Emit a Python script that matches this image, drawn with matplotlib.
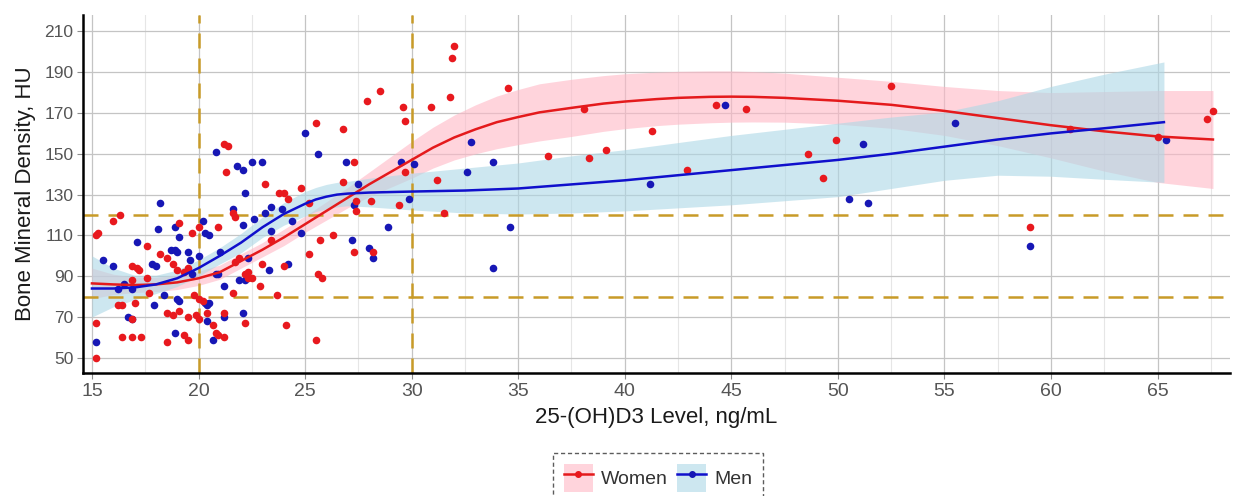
import matplotlib
matplotlib.use("Agg")
import matplotlib.pyplot as plt
from matplotlib.patches import Patch
from matplotlib.lines import Line2D
import numpy as np

plt.rcParams['font.family'] = ['Liberation Sans', 'DejaVu Sans']

# ---------------- data ----------------
women_x = [15.2, 15.3, 15.2, 15.2, 16.0, 16.3, 16.2, 16.4, 16.4, 16.9, 17.3, 16.9, 17.1, 17.2,
           16.9, 17.0, 16.9, 17.6, 17.6, 17.7, 18.2, 18.5, 18.8, 19.0, 19.3, 19.5, 18.5, 19.1,
           20.0, 19.7, 18.5, 18.8, 19.1, 19.3, 19.5, 19.5, 19.9, 20.0, 19.8, 20.0, 20.2, 20.4,
           20.7, 20.8, 20.9, 20.9, 21.2, 21.4, 21.3, 21.2, 21.2, 21.6, 21.6, 21.7, 21.7, 21.9,
           22.2, 22.3, 22.3, 22.2, 22.5, 22.9, 23.1, 23.0, 23.4, 23.7, 23.8, 24.0, 24.2, 24.0,
           24.1, 24.8, 25.2, 25.2, 25.6, 25.8, 25.5, 25.5, 25.7, 26.3, 26.8, 26.8, 27.3, 27.3,
           27.4, 27.4, 27.9, 28.1, 28.2, 28.5, 29.4, 29.6, 29.7, 29.7, 30.9, 31.2, 31.5, 31.8,
           31.9, 32.0, 34.5, 36.4, 38.1, 38.3, 39.1, 41.3, 42.9, 44.3, 45.7, 48.6, 49.3, 49.9,
           52.5, 59.0, 60.9, 65.0, 67.3, 67.6]
women_y = [110, 111, 50, 67, 117, 120, 76, 76, 60, 60, 60, 95, 94, 93,
           88, 77, 69, 105, 89, 82, 101, 99, 96, 93, 92, 94, 58, 116,
           114, 111, 72, 71, 73, 61, 59, 70, 71, 69, 81, 79, 78, 72,
           66, 62, 61, 114, 155, 154, 141, 60, 72, 82, 121, 119, 97, 99,
           91, 92, 89, 67, 89, 85, 135, 96, 108, 81, 131, 131, 128, 95,
           66, 133, 126, 101, 91, 89, 59, 165, 108, 110, 162, 136, 146, 102,
           127, 122, 176, 127, 102, 181, 125, 173, 166, 141, 173, 137, 121, 178,
           197, 203, 182, 149, 172, 148, 152, 161, 142, 174, 172, 150, 138, 157,
           183, 114, 162, 158, 167, 171]

men_x = [15.2, 15.5, 16.0, 16.5, 16.2, 16.7, 16.9, 17.1, 16.9, 17.8, 18.0, 17.9, 18.2, 18.1,
         18.4, 18.7, 18.9, 19.0, 18.9, 19.1, 19.0, 19.1, 18.9, 19.5, 19.6, 19.7, 20.0, 20.2,
         20.3, 20.5, 20.3, 20.4, 20.5, 20.4, 20.7, 20.8, 20.8, 20.9, 21.2, 21.2, 21.0, 21.6,
         21.8, 22.1, 22.2, 22.5, 23.0, 22.1, 21.9, 22.2, 22.1, 22.3, 22.6, 23.1, 23.4, 23.4,
         23.3, 23.9, 24.2, 24.4, 24.8, 25.0, 25.6, 26.9, 27.5, 27.3, 27.2, 28.0, 28.2, 28.9,
         29.5, 29.9, 30.1, 32.6, 32.8, 33.8, 33.8, 34.6, 41.2, 44.7, 50.5, 51.2, 51.4, 55.5,
         59.0, 65.4]
men_y = [58, 98, 95, 86, 84, 70, 69, 107, 84, 96, 95, 76, 126, 113,
         81, 103, 103, 102, 114, 109, 79, 78, 62, 102, 98, 91, 100, 117,
         111, 110, 77, 76, 77, 68, 59, 151, 91, 91, 85, 70, 102, 123,
         144, 142, 131, 146, 146, 115, 88, 88, 72, 99, 118, 121, 124, 112,
         93, 123, 96, 117, 111, 160, 150, 146, 135, 125, 108, 104, 99, 114,
         146, 128, 145, 141, 156, 146, 94, 114, 135, 174, 128, 155, 126, 165,
         105, 157]

# smoothed fits with confidence bands
women_fit_x = [15, 16, 17, 18, 19, 20, 21, 22, 23, 24, 25, 26, 27, 28, 29, 30, 31, 32, 33,
               34, 35, 36, 37.5, 39, 40, 41.5, 42.5, 44, 45, 46, 47.5, 50, 52.5, 55, 57.5,
               60, 62.5, 65, 67.6]
women_fit = [86.5, 86, 85.7, 86, 87, 89, 92, 97.5, 103, 109, 115.5, 122, 128.5, 135, 141,
             147, 153, 158, 162, 165.5, 168, 170.3, 172.5, 174.6, 175.6, 176.8, 177.4, 177.9,
             178, 177.9, 177.4, 176, 174, 171, 167.5, 164, 161, 158.5, 157]
women_lo = [79, 81, 82, 82.5, 83.5, 85.5, 88.5, 94, 99.5, 105, 111.5, 117.5, 123.5, 129,
            133.5, 138, 143, 147, 150, 152.5, 154.5, 156.3, 158.5, 161, 162.3, 163.8, 164.5,
            165.2, 165.5, 165.6, 165.5, 164.5, 162.5, 159, 154, 148, 141.5, 136, 133]
women_hi = [94, 91, 89.5, 89.5, 90.5, 92.5, 95.5, 101, 106.5, 113, 119.5, 126.5, 133.5, 141,
            148.5, 156, 163, 169, 174, 178.3, 181.5, 184.3, 186.5, 188.3, 189.2, 190, 190.4,
            190.6, 190.6, 190.3, 189.5, 187.5, 185.5, 183, 181, 180, 180.5, 181, 181]

men_fit_x = [15, 16, 17, 18, 19, 20, 21, 22, 23, 24, 25, 25.5, 26, 26.5, 27, 28, 30, 32.5,
             35, 37.5, 40, 42.5, 45, 47.5, 50, 52.5, 55, 57.5, 60, 62.5, 65.3]
men_fit = [84, 84, 84.5, 86, 89, 94, 100, 106.5, 114, 120.5, 125.5, 127.6, 129, 130, 130.5,
           131, 131.5, 132, 133, 135, 137, 139.5, 142, 144.5, 147, 150, 153.5, 157, 160,
           162.5, 165.5]
men_lo = [70, 75, 78.5, 81.5, 85, 90, 96, 101.5, 109, 115, 119.5, 121.7, 123, 124, 124.5,
          124, 122.5, 121, 120.5, 121, 122, 123.5, 125, 127, 129, 133, 137, 139.5, 139,
          137.5, 136]
men_hi = [100, 94, 90.5, 90.5, 93, 98, 104, 111, 119, 126, 131.5, 133.5, 135, 136, 136.5,
          138, 140.5, 143, 145.5, 149, 152, 155.5, 159, 162, 165, 168, 170.5, 176, 183,
          189, 195]

x_ticks = [15, 20, 25, 30, 35, 40, 45, 50, 55, 60, 65]
y_ticks = [50, 70, 90, 110, 130, 150, 170, 190, 210]
vref = [20, 30]
href = [80, 120]
series_names = ["Women", "Men"]

# ---------------- styling ----------------
red_pt = '#E8191E'
blue_pt = '#1717B5'
red_line = '#E41A1C'
blue_line = '#1010CC'
pink_band = '#FFB8C6'
blue_band = '#ADD8E6'
gold = '#C89B28'

fig = plt.figure(figsize=(12.34, 4.96), dpi=100)
ax = fig.add_axes([83 / 1234, 1 - 373 / 496, 1147 / 1234, 358 / 496])

ax.set_xlim(14.58, 68.4)
ax.set_ylim(42.6, 218.0)

# grid
for v in np.arange(17.5, 68.4, 5):
    ax.axvline(v, color='#E6E6E6', lw=0.8, zorder=0)
for v in x_ticks:
    ax.axvline(v, color='#C4C4C4', lw=0.9, zorder=0)
for v in y_ticks:
    ax.axhline(v, color='#C4C4C4', lw=0.9, zorder=0)

# confidence bands
ax.fill_between(women_fit_x, women_lo, women_hi, color=pink_band, alpha=0.6, lw=0, zorder=1)
ax.fill_between(men_fit_x, men_lo, men_hi, color=blue_band, alpha=0.6, lw=0, zorder=1)

# reference lines
for v in vref:
    ax.axvline(v, color=gold, lw=1.8, ls=(0, (6, 4)), zorder=2)
for v in href:
    ax.axhline(v, color=gold, lw=1.8, ls=(0, (6, 4)), zorder=2)

# points
ax.scatter(men_x, men_y, s=30, color=blue_pt, lw=0, zorder=3)
ax.scatter(women_x, women_y, s=30, color=red_pt, lw=0, zorder=3)

# fit lines
ax.plot(women_fit_x, women_fit, color=red_line, lw=1.8, zorder=4)
ax.plot(men_fit_x, men_fit, color=blue_line, lw=1.8, zorder=4)

# axes
ax.set_xticks(x_ticks)
ax.set_yticks(y_ticks)
ax.tick_params(axis='x', labelsize=14, colors='#555555', length=4, width=0.8,
               color='#8C8C8C', pad=3)
ax.tick_params(axis='y', labelsize=12.5, colors='#555555', length=4, width=0.8,
               color='#8C8C8C', pad=3)
for s in ['top', 'right']:
    ax.spines[s].set_visible(False)
for s in ['left', 'bottom']:
    ax.spines[s].set_color('black')
    ax.spines[s].set_linewidth(1.8)

ax.set_xlabel("25-(OH)D3 Level, ng/mL", fontsize=16, color='#1A1A1A', labelpad=5)
ax.set_ylabel("Bone Mineral Density, HU", fontsize=16, color='#1A1A1A', labelpad=6)

# legend
h_w = (Patch(facecolor=pink_band, alpha=0.6, lw=0),
       Line2D([], [], color=red_line, lw=1.8, marker='o', ms=4, mfc=red_pt, mec=red_pt))
h_m = (Patch(facecolor=blue_band, alpha=0.6, lw=0),
       Line2D([], [], color=blue_line, lw=1.8, marker='o', ms=4, mfc=blue_pt, mec=blue_pt))
leg = fig.legend([h_w, h_m], series_names, loc='center', bbox_to_anchor=(658 / 1234, 1 - 478 / 496),
                 ncol=2, fontsize=14, frameon=True, fancybox=False, handlelength=1.5,
                 handleheight=1.9, columnspacing=0.5, handletextpad=0.4, borderpad=0.55,
                 borderaxespad=0.0)
fr = leg.get_frame()
fr.set_edgecolor('#333333')
fr.set_linewidth(1.0)
fr.set_linestyle((0, (3, 2)))
for t in leg.get_texts():
    t.set_color('#333333')

fig.savefig("out.png", dpi=100)
